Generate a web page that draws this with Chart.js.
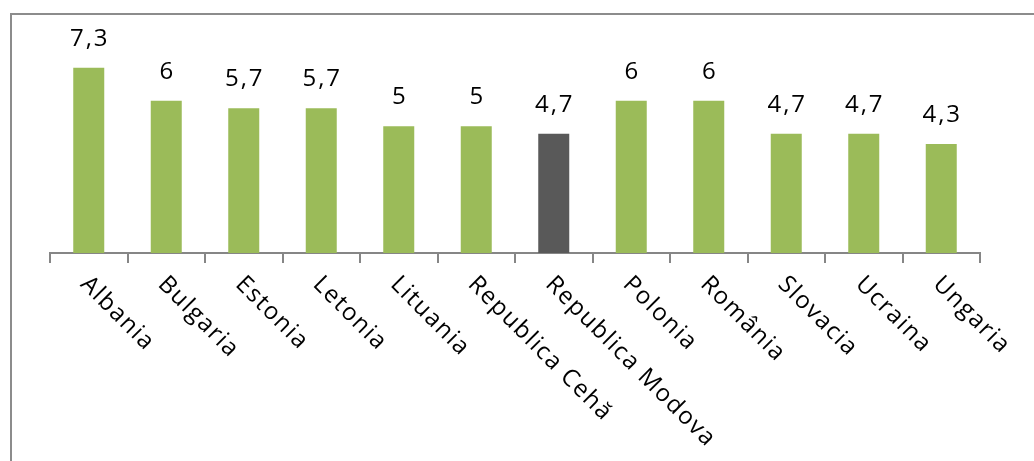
<!DOCTYPE html>
<html>
<head>
<meta charset="utf-8">
<script src="https://cdn.jsdelivr.net/npm/chart.js@4/dist/chart.umd.min.js"></script>
<style>
  html, body { margin: 0; padding: 0; background: #fff; }
  #wrap { width: 1034px; height: 461px; position: relative; }
</style>
</head>
<body>
<div id="wrap"><canvas id="dataChart"></canvas></div>
<script>
'use strict';

let countryNames = ['Albania', 'Bulgaria', 'Estonia', 'Letonia', 'Lituania', 'Republica Cehă',
  'Republica Modova', 'Polonia', 'România', 'Slovacia', 'Ucraina', 'Ungaria'];
let countryScores = [7.3, 6, 5.7, 5.7, 5, 5, 4.7, 6, 6, 4.7, 4.7, 4.3];
let highlighted = 'Republica Modova';

let greenBar = '#9bbb59';
let greyBar = '#595959';
let axisGrey = '#868686';
let labelFont = '"Open Sans", "Noto Sans", sans-serif';

let barColors = countryNames.map(function (name) {
  return name === highlighted ? greyBar : greenBar;
});

// outer frame, like the Excel chart border (runs off the right and bottom)
let framePlugin = {
  id: 'frame',
  beforeDraw: function (chart) {
    let ctx = chart.ctx;
    ctx.save();
    ctx.strokeStyle = '#8c8c8c';
    ctx.lineWidth = 2;
    ctx.strokeRect(11, 14, 1100, 600);
    ctx.restore();
  }
};

// value labels over the bars and the slanted country names
let labelPlugin = {
  id: 'labels',
  afterDatasetsDraw: function (chart) {
    let ctx = chart.ctx;
    let meta = chart.getDatasetMeta(0);
    let xScale = chart.scales.x;
    ctx.save();
    ctx.fillStyle = '#000';
    ctx.font = '24px ' + labelFont;
    ctx.letterSpacing = '2px';
    ctx.textAlign = 'center';
    ctx.textBaseline = 'alphabetic';
    meta.data.forEach(function (bar, i) {
      let text = String(countryScores[i]).replace('.', ',');
      ctx.fillText(text, bar.x + 1, bar.y - 22);
    });

    ctx.letterSpacing = '1.5px';
    ctx.textAlign = 'left';
    ctx.textBaseline = 'top';
    for (let i = 0; i < countryNames.length; i++) {
      let x = xScale.getPixelForTick(i);
      ctx.save();
      ctx.translate(x + 4, xScale.top + 19);
      ctx.rotate(Math.PI / 4);
      ctx.fillText(countryNames[i], 0, 0);
      ctx.restore();
    }
    ctx.restore();
  }
};

let barChart = document.getElementById('dataChart').getContext('2d');

// eslint-disable-next-line no-unused-vars
let chart = new Chart(barChart, {
  type: 'bar',
  data: {
    labels: countryNames,
    datasets: [{
      data: countryScores,
      backgroundColor: barColors,
      borderWidth: 0,
      barPercentage: 0.4,
      categoryPercentage: 1
    }]
  },
  options: {
    responsive: true,
    maintainAspectRatio: false,
    animation: false,
    layout: {
      padding: { left: 50, right: 54, top: 50, bottom: 0 }
    },
    plugins: {
      legend: { display: false },
      tooltip: { enabled: false }
    },
    scales: {
      x: {
        offset: true,
        afterFit: function (scale) {
          scale.height = 208;
        },
        border: { display: true, color: axisGrey, width: 2 },
        grid: {
          offset: true,
          drawOnChartArea: false,
          drawTicks: true,
          tickLength: 10,
          color: axisGrey,
          lineWidth: 2
        },
        ticks: { display: false }
      },
      y: {
        display: false,
        min: 0,
        max: 8
      }
    }
  },
  plugins: [framePlugin, labelPlugin]
});
</script>
</body>
</html>
